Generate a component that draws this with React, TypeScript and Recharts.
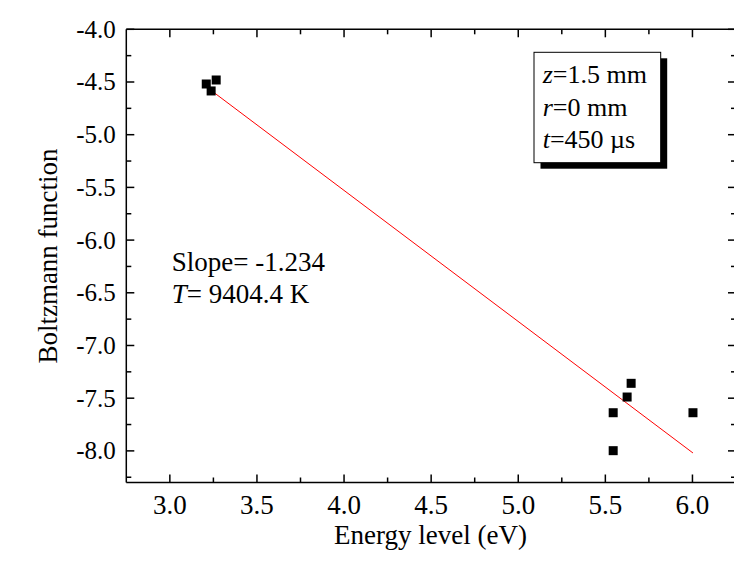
import React from "react";
import { ComposedChart, Scatter, XAxis, YAxis } from "recharts";

// Data
const energyLevels = [3.209, 3.266, 3.237, 5.648, 5.625, 5.545, 5.545, 6.003];
const boltzmannValues = [-4.519, -4.481, -4.585, -7.359, -7.489, -7.638, -7.998, -7.638];
const fitX = [3.213, 6.003];
const fitY = [-4.55, -8.02];
const xTicks = [3.0, 3.25, 3.5, 3.75, 4.0, 4.25, 4.5, 4.75, 5.0, 5.25, 5.5, 5.75, 6.0];
const yTicks = [-8.25, -8.0, -7.75, -7.5, -7.25, -7.0, -6.75, -6.5, -6.25, -6.0, -5.75, -5.5, -5.25, -5.0, -4.75, -4.5, -4.25, -4.0];
const xDomain = [2.75, 6.25];
const yDomain = [-8.3, -4.0];
const annotationLines = ["Slope= -1.234", "9404.4 K"];
const infoLines = [
  { sym: "z", rest: "=1.5 mm" },
  { sym: "r", rest: "=0 mm" },
  { sym: "t", rest: "=450 \u00b5s" },
];

const points = energyLevels.map((x, i) => ({ x, y: boltzmannValues[i] }));
const fitData = fitX.map((x, i) => ({ x, y: fitY[i] }));

const FONT = '"Liberation Serif", "Times New Roman", serif';
const MAJOR = 8;
const MINOR = 5;

const isMajor = (v: number) => Math.abs(v * 2 - Math.round(v * 2)) < 1e-6;

const BottomTick = (props: any) => {
  const { x, y, payload } = props;
  const v = payload.value;
  if (!isMajor(v)) return <line x1={x} x2={x} y1={y} y2={y - MINOR} stroke="#000" strokeWidth={1.5} />;
  return (
    <g>
      <line x1={x} x2={x} y1={y} y2={y - MAJOR} stroke="#000" strokeWidth={1.5} />
      <text x={x} y={y + 31} textAnchor="middle" fontFamily={FONT} fontSize={27} fill="#000">
        {v.toFixed(1)}
      </text>
    </g>
  );
};

const TopTick = (props: any) => {
  const { x, y, payload } = props;
  const len = isMajor(payload.value) ? MAJOR : MINOR;
  return <line x1={x} x2={x} y1={y} y2={y + len} stroke="#000" strokeWidth={1.5} />;
};

const LeftTick = (props: any) => {
  const { x, y, payload } = props;
  const v = payload.value;
  if (!isMajor(v)) return <line x1={x} x2={x + MINOR} y1={y} y2={y} stroke="#000" strokeWidth={1.5} />;
  return (
    <g>
      <line x1={x} x2={x + MAJOR} y1={y} y2={y} stroke="#000" strokeWidth={1.5} />
      <text x={x - 10.5} y={y + 8.5} textAnchor="end" fontFamily={FONT} fontSize={25} fill="#000">
        {v.toFixed(1)}
      </text>
    </g>
  );
};

const RightTick = (props: any) => {
  const { x, y, payload } = props;
  const len = isMajor(payload.value) ? MAJOR : MINOR;
  return <line x1={x} x2={x - len} y1={y} y2={y} stroke="#000" strokeWidth={1.5} />;
};

const SquareShape = (props: any) => {
  const { cx, cy } = props;
  if (cx == null || cy == null) return null;
  return <rect x={cx - 4.5} y={cy - 4.5} width={9} height={9} fill="#000" />;
};

const NoShape = () => null;

export default function App() {
  return (
    <div style={{ position: "absolute", left: 0, top: 0, width: 734, height: 569, overflow: "hidden", background: "#fff" }}>
      <ComposedChart
        width={741}
        height={569}
        margin={{ top: 0, right: 0, bottom: 0, left: 0 }}
        style={{ position: "absolute", left: 0, top: 0 }}
      >
        <XAxis
          xAxisId="b"
          type="number"
          dataKey="x"
          domain={xDomain}
          ticks={xTicks}
          allowDataOverflow
          orientation="bottom"
          height={86.5}
          tickSize={0}
          tickMargin={0}
          tickLine={false}
          axisLine={{ stroke: "#000", strokeWidth: 1.5 }}
          tick={<BottomTick />}
          interval={0}
        />
        <XAxis
          xAxisId="t"
          type="number"
          dataKey="x"
          domain={xDomain}
          ticks={xTicks}
          allowDataOverflow
          orientation="top"
          height={29.3}
          tickSize={0}
          tickMargin={0}
          tickLine={false}
          axisLine={{ stroke: "#000", strokeWidth: 1.5 }}
          tick={<TopTick />}
          interval={0}
        />
        <YAxis
          yAxisId="l"
          type="number"
          dataKey="y"
          domain={yDomain}
          ticks={yTicks}
          allowDataOverflow
          orientation="left"
          width={126.3}
          tickSize={0}
          tickMargin={0}
          tickLine={false}
          axisLine={{ stroke: "#000", strokeWidth: 1.5 }}
          tick={<LeftTick />}
          interval={0}
        />
        <YAxis
          yAxisId="r"
          type="number"
          dataKey="y"
          domain={yDomain}
          ticks={yTicks}
          allowDataOverflow
          orientation="right"
          width={5}
          tickSize={0}
          tickMargin={0}
          tickLine={false}
          axisLine={{ stroke: "#000", strokeWidth: 1.5 }}
          tick={<RightTick />}
          interval={0}
        />
        <Scatter
          xAxisId="b"
          yAxisId="l"
          data={fitData}
          line={{ stroke: "#ff0000", strokeWidth: 1 }}
          shape={<NoShape />}
          isAnimationActive={false}
        />
        <Scatter
          xAxisId="b"
          yAxisId="l"
          data={points}
          shape={<SquareShape />}
          isAnimationActive={false}
        />
      </ComposedChart>
      <svg width={734} height={569} style={{ position: "absolute", left: 0, top: 0, pointerEvents: "none" }}>
        <text
          x={48}
          y={256}
          transform="rotate(-90 48 256)"
          textAnchor="middle"
          dominantBaseline="central"
          fontFamily={FONT}
          fontSize={27}
          fill="#000"
        >
          Boltzmann function
        </text>
        <text x={430.5} y={543.5} textAnchor="middle" fontFamily={FONT} fontSize={27} fill="#000">
          Energy level (eV)
        </text>
        <text x={171.7} y={270.7} fontFamily={FONT} fontSize={27} fill="#000">
          {annotationLines[0]}
        </text>
        <text x={171.7} y={302.7} fontFamily={FONT} fontSize={27} fill="#000">
          <tspan fontStyle="italic">T</tspan>
          <tspan>= {annotationLines[1]}</tspan>
        </text>
        <rect x={540.5} y={58.3} width={126.7} height={110.4} fill="#000" />
        <rect x={534} y={52.3} width={126.7} height={110.4} fill="#fff" stroke="#000" strokeWidth={1} />
        {infoLines.map((l, i) => (
          <text key={i} x={542.7} y={83.3 + i * 32.5} fontFamily={FONT} fontSize={26} fill="#000">
            <tspan fontStyle="italic">{l.sym}</tspan>
            <tspan>{l.rest}</tspan>
          </text>
        ))}
      </svg>
    </div>
  );
}
